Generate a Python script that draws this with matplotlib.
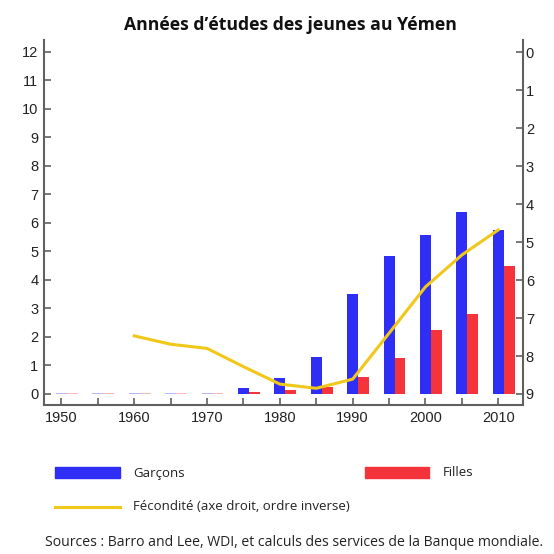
import matplotlib
matplotlib.use("Agg")
import matplotlib.pyplot as plt
from matplotlib.patches import Rectangle
from matplotlib.lines import Line2D

years = [1950, 1955, 1960, 1965, 1970, 1975, 1980, 1985, 1990, 1995, 2000, 2005, 2010]
garcons = [0.03, 0.03, 0.03, 0.03, 0.03, 0.21, 0.55, 1.31, 3.50, 4.84, 5.58, 6.40, 5.75]
filles = [0.03, 0.03, 0.03, 0.03, 0.03, 0.05, 0.12, 0.23, 0.61, 1.27, 2.25, 2.81, 4.50]
fert_years = [1960, 1965, 1970, 1975, 1980, 1985, 1990, 1995, 2000, 2005, 2010]
fecondite = [7.47, 7.69, 7.80, 8.28, 8.74, 8.85, 8.61, 7.40, 6.18, 5.34, 4.68]
left_ticks = list(range(0, 13))
right_ticks = list(range(0, 10))
xtick_pos = list(range(1950, 2011, 5))
xtick_lab = [str(y) if y % 10 == 0 else "" for y in xtick_pos]

BLUE = "#2e2ef5"
RED = "#f5333a"
GOLD = "#f0c81a"
GRAY = "#606060"
W = 1.5

fig = plt.figure(figsize=(5.54, 5.54), dpi=100)
ax = fig.add_axes([44/554, 1-405/554, (523-44)/554, (405-40)/554])
ax2 = ax.twinx()

bg = ax.bar([y for y in years], garcons, width=W, color=BLUE, align="center", zorder=2, linewidth=0)
bf = ax.bar([y + W for y in years], filles, width=W, color=RED, align="center", zorder=2, linewidth=0)
for bars, vals in ((bg, garcons), (bf, filles)):
    for b, v in zip(bars, vals):
        if v < 0.04:
            b.set_alpha(0.35)
ax2.plot(fert_years, fecondite, color=GOLD, lw=2.2, zorder=3)

ax.set_xlim(1947.6, 2013.4)
ax.set_ylim(-0.39, 12.42)
ax2.set_ylim(9.29, -0.32)

ax.set_yticks(left_ticks)
ax.set_yticklabels([str(t) for t in left_ticks])
ax2.set_yticks(right_ticks)
ax2.set_yticklabels([str(t) for t in right_ticks])
ax.set_xticks(xtick_pos)
ax.set_xticklabels(xtick_lab)

for a in (ax, ax2):
    for s in a.spines.values():
        s.set_visible(False)
    for lab in a.get_yticklabels() + a.get_xticklabels():
        lab.set_fontfamily("Liberation Sans")
        lab.set_fontsize(10.5)
        lab.set_color("#222222")
ax.spines["left"].set_visible(True)
ax.spines["bottom"].set_visible(True)
ax2.spines["right"].set_visible(True)
for s in (ax.spines["left"], ax.spines["bottom"], ax2.spines["right"]):
    s.set_color(GRAY)
    s.set_linewidth(1.5)
ax.tick_params(axis="y", direction="in", length=5, width=1.2, color=GRAY, pad=4)
ax.tick_params(axis="x", direction="in", length=5, width=1.2, color=GRAY, pad=4)
ax2.tick_params(axis="y", direction="in", length=5, width=1.2, color=GRAY, pad=2)

fig.text(0.524, 1-25/554, "Années d’études des jeunes au Yémen", ha="center", va="center",
         fontsize=12.7, fontweight="bold", family="Open Sans", color="#111111")

# legend
fig.patches.append(Rectangle((55/554, 1-478/554), 65/554, 11/554, transform=fig.transFigure,
                             color=BLUE, figure=fig))
fig.text(133/554, 1-473/554, "Garçons", va="center", ha="left", fontsize=9.5, family="Open Sans", color="#222222")
fig.patches.append(Rectangle((365/554, 1-478/554), 64/554, 11/554, transform=fig.transFigure,
                             color=RED, figure=fig))
fig.text(443/554, 1-473/554, "Filles", va="center", ha="left", fontsize=9.5, family="Open Sans", color="#222222")
fig.lines.append(Line2D([55/554, 120/554], [1-507/554, 1-507/554], transform=fig.transFigure,
                        color=GOLD, lw=2.2, figure=fig))
fig.text(133/554, 1-507/554, "Fécondité (axe droit, ordre inverse)", va="center", ha="left",
         fontsize=9.5, family="Open Sans", color="#222222")
fig.text(45/554, 1-543/554, "Sources : Barro and Lee, WDI, et calculs des services de la Banque mondiale.",
         va="center", ha="left", fontsize=10.1, family="Open Sans", color="#222222")

fig.savefig("out.png", dpi=100, facecolor="white")
